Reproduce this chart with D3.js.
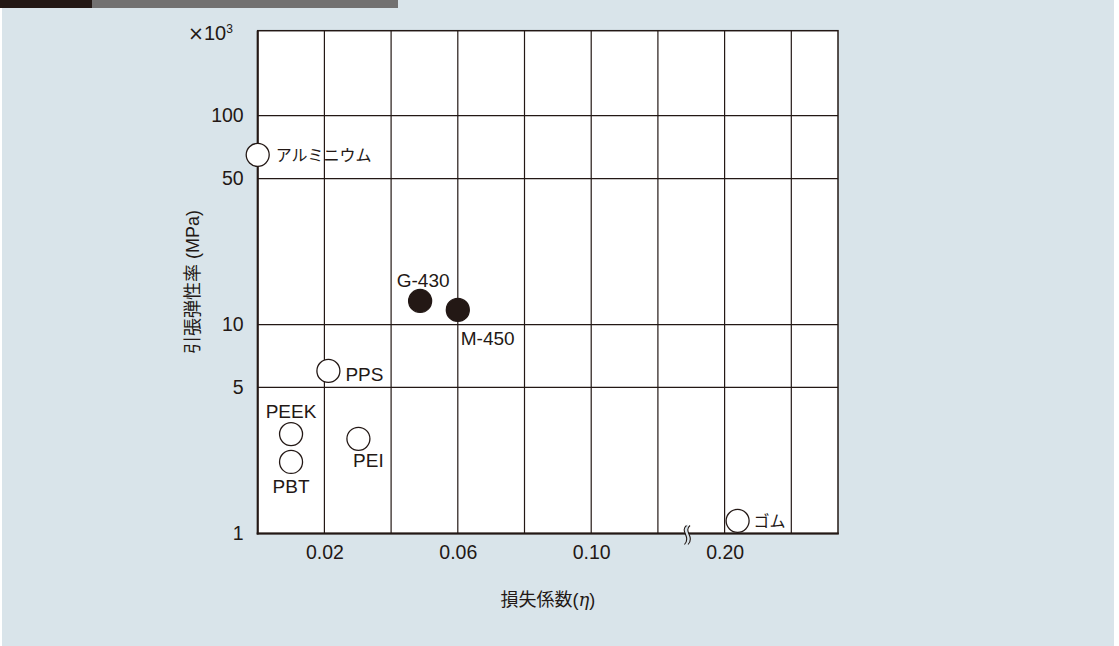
<!DOCTYPE html>
<html>
<head>
<meta charset="utf-8">
<script src="https://cdn.jsdelivr.net/npm/d3@7"></script>
<style>
  body { margin: 0; background: #fff; }
  text { font-family: "Liberation Sans", "Noto Sans CJK JP", sans-serif; fill: #231815; }
</style>
</head>
<body>
<div id="chart-area"></div>
<script>
// materials: loss factor (eta) vs tensile modulus (x10^3 MPa)
const materials = ["アルミニウム", "PPS", "PEEK", "PBT", "PEI", "G-430", "M-450", "ゴム"]
const lossFactor = [0.0, 0.0212, 0.010, 0.010, 0.0302, 0.0487, 0.060, 0.2039]
const modulus = [64.9, 6.0, 2.99, 2.20, 2.84, 12.97, 11.75, 1.15]
const filled = [false, false, false, false, false, true, true, false]

const xTickLabels = [0.02, 0.06, 0.10, 0.20]
const xGrid = [0.02, 0.04, 0.06, 0.08, 0.10, 0.12, 0.20, 0.22]
const yTickLabels = [1, 5, 10, 50, 100]
const yGrid = [5, 10, 50, 100]

// label placement per material: anchor, dx, dy
const labelPos = {
  "アルミニウム": ["start", 18, 6],
  "PPS": ["start", 17, 10],
  "PEEK": ["middle", 0, -16],
  "PBT": ["middle", 0, 31],
  "PEI": ["middle", 10, 28],
  "G-430": ["middle", 3, -14],
  "M-450": ["start", 3, 35],
  "ゴム": ["start", 16, 6]
}

const W = 1119, H = 646
const plot = {left: 257.7, right: 838, top: 30.7, bottom: 533.5}
const ink = "#231815"
const bg = "#d9e4ea"

const svg = d3.select("#chart-area")
  .append("svg")
    .attr("width", W)
    .attr("height", H)

// background + header bars
svg.append("rect").attr("x", 2).attr("y", 0).attr("width", 1112).attr("height", H).attr("fill", bg)
svg.append("rect").attr("x", 0).attr("y", 0).attr("width", 92).attr("height", 8).attr("fill", ink)
svg.append("rect").attr("x", 92).attr("y", 0).attr("width", 306).attr("height", 8).attr("fill", "#727171")

// x scale with a break between 0.12 and 0.20
const step = (plot.right - plot.left) / 8.7
const x = d3.scaleLinear()
  .domain([0, 0.12, 0.20, 0.234])
  .range([plot.left, plot.left + 6 * step, plot.left + 7 * step, plot.right])

const y = d3.scaleLog()
  .domain([1, 255])
  .range([plot.bottom, plot.top])

// plot area
svg.append("rect")
  .attr("x", plot.left).attr("y", plot.top)
  .attr("width", plot.right - plot.left).attr("height", plot.bottom - plot.top)
  .attr("fill", "#fff")

// grid
svg.append("g").selectAll("line").data(xGrid).join("line")
  .attr("x1", d => x(d)).attr("x2", d => x(d))
  .attr("y1", plot.top).attr("y2", plot.bottom)
  .attr("stroke", ink).attr("stroke-width", 1.2)

svg.append("g").selectAll("line").data(yGrid).join("line")
  .attr("x1", plot.left).attr("x2", plot.right)
  .attr("y1", d => y(d)).attr("y2", d => y(d))
  .attr("stroke", ink).attr("stroke-width", 1.2)

// frame
svg.append("rect")
  .attr("x", plot.left).attr("y", plot.top)
  .attr("width", plot.right - plot.left).attr("height", plot.bottom - plot.top)
  .attr("fill", "none").attr("stroke", ink).attr("stroke-width", 1.5)
svg.append("line").attr("x1", plot.left).attr("x2", plot.left).attr("y1", plot.top).attr("y2", plot.bottom + 1)
  .attr("stroke", ink).attr("stroke-width", 2)
svg.append("line").attr("x1", plot.left - 1).attr("x2", plot.right + 0.75).attr("y1", plot.bottom).attr("y2", plot.bottom)
  .attr("stroke", ink).attr("stroke-width", 2)

// axis break mark
const bx = (x(0.12) + x(0.20)) / 2 - 5
const wave = (o) => `M${bx + 2 + o},${plot.bottom - 8} C${bx - 5 + o},${plot.bottom - 2} ${bx + 7 + o},${plot.bottom + 3} ${bx + o},${plot.bottom + 11}`
svg.append("path").attr("d", wave(0)).attr("fill", "none").attr("stroke", bg).attr("stroke-width", 3)
svg.append("path").attr("d", wave(-1.8)).attr("fill", "none").attr("stroke", ink).attr("stroke-width", 1.1)
svg.append("path").attr("d", wave(1.8)).attr("fill", "none").attr("stroke", ink).attr("stroke-width", 1.1)

// axes labels
const xAxis = svg.append("g")
  .attr("transform", `translate(0, ${plot.bottom})`)
  .call(d3.axisBottom(x).tickValues(xTickLabels).tickSize(0).tickPadding(12).tickFormat(d3.format(".2f")))
xAxis.select(".domain").remove()
xAxis.selectAll("text").attr("font-size", 19.5).attr("font-family", null).attr("fill", ink)

const yAxis = svg.append("g")
  .attr("transform", `translate(${plot.left}, 0)`)
  .call(d3.axisLeft(y).tickValues(yTickLabels).tickSize(0).tickPadding(14).tickFormat(d3.format("d")))
yAxis.select(".domain").remove()
yAxis.selectAll("text").attr("font-size", 19.5).attr("font-family", null).attr("fill", ink)

const unit = svg.append("text")
  .attr("x", 188).attr("y", 40)
  .attr("font-size", 20)
unit.append("tspan").attr("font-family", "'DejaVu Sans', sans-serif").attr("font-size", 19).text("×")
unit.append("tspan").text("10")
unit.append("tspan").attr("font-size", 12).attr("dy", -7).text("3")

svg.append("text")
  .attr("transform", `translate(199, ${(plot.top + plot.bottom) / 2}) rotate(-90)`)
  .attr("text-anchor", "middle")
  .attr("font-size", 18)
  .text("引張弾性率 (MPa)")

const xt = svg.append("text")
  .attr("x", (plot.left + plot.right) / 2).attr("y", 606)
  .attr("text-anchor", "middle")
  .attr("font-size", 18)
xt.append("tspan").text("損失係数(")
xt.append("tspan").attr("font-style", "italic").attr("font-family", "'DejaVu Serif', serif").text("η")
xt.append("tspan").text(")")

// points
const data = materials.map((m, i) => ({name: m, eta: lossFactor[i], E: modulus[i], filled: filled[i]}))

svg.append("g").selectAll("circle").data(data).join("circle")
  .attr("cx", d => x(d.eta))
  .attr("cy", d => y(d.E))
  .attr("r", 11.5)
  .attr("fill", d => d.filled ? ink : "#fff")
  .attr("stroke", ink)
  .attr("stroke-width", 1.3)

svg.append("g").selectAll("text").data(data).join("text")
  .attr("x", d => x(d.eta) + labelPos[d.name][1])
  .attr("y", d => y(d.E) + labelPos[d.name][2])
  .attr("text-anchor", d => labelPos[d.name][0])
  .attr("font-size", d => /[A-Z]/.test(d.name) ? 19 : 16)
  .text(d => d.name)
</script>
</body>
</html>
